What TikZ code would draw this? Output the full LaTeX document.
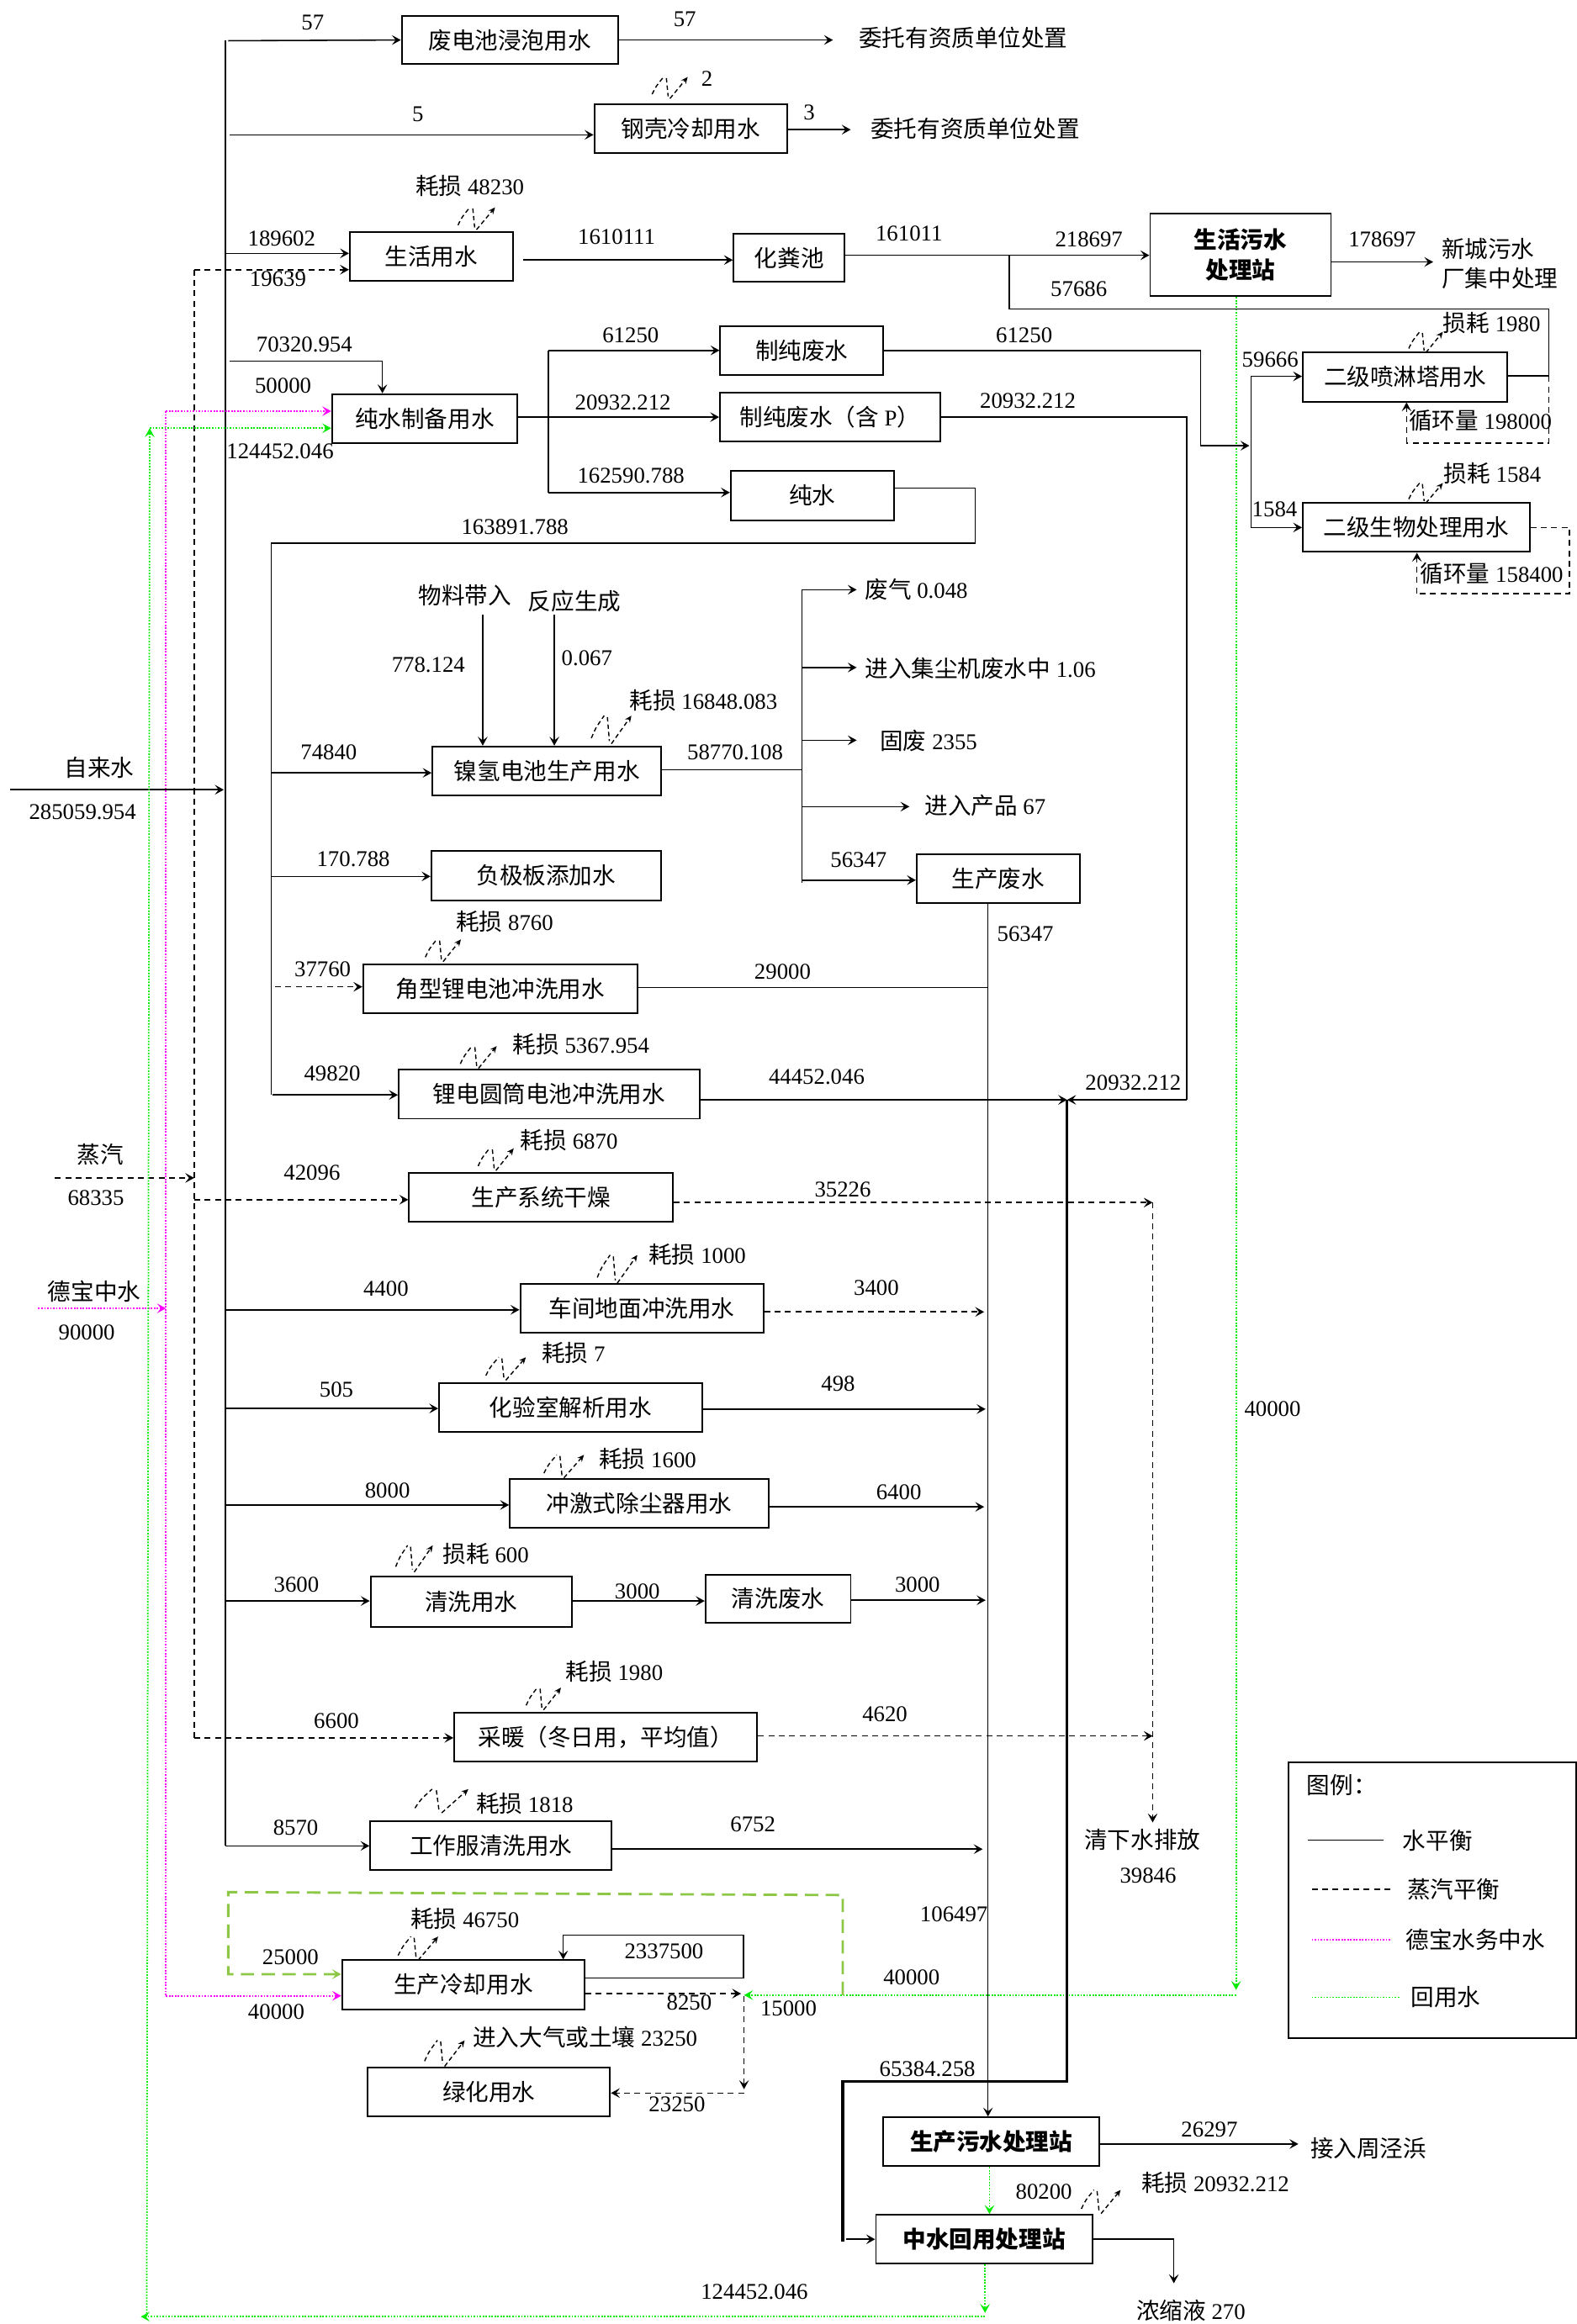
\documentclass[tikz,border=0pt]{standalone}
\usepackage{fontspec}
\setmainfont{Liberation Serif}
\newfontfamily\cjk{Noto Sans CJK SC}[Scale=1.03]
\newcommand\zh[1]{{\cjk #1}}
\usetikzlibrary{arrows.meta}
\definecolor{mag}{RGB}{255,0,255}
\definecolor{grn}{RGB}{0,235,0}
\definecolor{lgrn}{RGB}{140,200,70}
\tikzset{
 every node/.style={font=\fontsize{15.2}{18}\selectfont, inner sep=0pt},
 bx/.style={draw, line width=1.1pt, minimum height=33pt},
 bbx/.style={bx, font=\fontsize{15.2}{20}\selectfont\bfseries},
 ln/.style={line width=0.9pt},
 arr/.style={-{Stealth[length=6pt,width=6.5pt,inset=2.5pt]}},
 ar/.style={ln,arr},
 stm/.style={ln,dash pattern=on 4pt off 3pt},
 mgd/.style={mag,line width=1pt,dash pattern=on 1pt off 1pt},
 grd/.style={grn,line width=1pt,dash pattern=on 1pt off 1pt},
 lossd/.style={line width=0.8pt,dash pattern=on 3pt off 2pt},
 pics/loss/.style args={#1/#2}{code={
   \draw[lossd] (0,{-0.2*#2}) .. controls ({0.1*#1},{-0.55*#2}) .. ({0.32*#1},{-#2});
   \draw[lossd] ({0.4*#1},{-0.95*#2}) -- ({0.45*#1},{-0.1*#2});
   \draw[lossd,-{Stealth[length=4.5pt,width=4pt,inset=1.5pt]}] ({0.5*#1},0) -- (#1,{-#2});
 }},
}
\begin{document}
\begin{tikzpicture}[x=1pt,y=-1pt]
\useasboundingbox (0,0) rectangle (1064,1568.5);

% ---------------- boxes ----------------
\node[bx,minimum width=146,minimum height=32] (fdc) at (344,27) {\zh{废电池浸泡用水}};
\node[bx,minimum width=130] (gk) at (466,87) {\zh{钢壳冷却用水}};
\node[bx,minimum width=110] (sh) at (291,173) {\zh{生活用水}};
\node[bx,minimum width=75,minimum height=32] (hfc) at (532.5,174) {\zh{化粪池}};
\node[bbx,minimum width=122,minimum height=56,align=center] (shws) at (837,172) {\zh{生活污水}\\\zh{处理站}};
\node[bx,minimum width=125] (cs) at (286.5,282.5) {\zh{纯水制备用水}};
\node[bx,minimum width=110] (zcf) at (541,236.5) {\zh{制纯废水}};
\node[bx,minimum width=148.5] (zcfp) at (560,281.5) {\zh{制纯废水（含} P\zh{）}};
\node[bx,minimum width=110] (cw) at (548,334.5) {\zh{纯水}};
\node[bx,minimum width=138] (pl) at (948,254.5) {\zh{二级喷淋塔用水}};
\node[bx,minimum width=153] (sw) at (955.5,356) {\zh{二级生物处理用水}};
\node[bx,minimum width=154.5] (nq) at (369,520.3) {\zh{镍氢电池生产用水}};
\node[bx,minimum width=155] (fj) at (368.5,591) {\zh{负极板添加水}};
\node[bx,minimum width=185] (jx) at (337.5,667.5) {\zh{角型锂电池冲洗用水}};
\node[bx,minimum width=203] (yt) at (370.5,738.5) {\zh{锂电圆筒电池冲洗用水}};
\node[bx,minimum width=110] (scfs) at (673.5,593) {\zh{生产废水}};
\node[bx,minimum width=178] (gz) at (365,808) {\zh{生产系统干燥}};
\node[bx,minimum width=164] (cj) at (433,883) {\zh{车间地面冲洗用水}};
\node[bx,minimum width=177.6] (hy) at (385,950) {\zh{化验室解析用水}};
\node[bx,minimum width=174.6] (cjs) at (431.3,1014.5) {\zh{冲激式除尘器用水}};
\node[bx,minimum width=136,minimum height=34] (qx) at (318,1081) {\zh{清洗用水}};
\node[bx,minimum width=98,minimum height=32] (qxfs) at (525,1079) {\zh{清洗废水}};
\node[bx,minimum width=204.5] (cn) at (408.7,1172.3) {\zh{采暖（冬日用，平均值）}};
\node[bx,minimum width=163] (gzf) at (331.3,1245.8) {\zh{工作服清洗用水}};
\node[bx,minimum width=163.7] (lq) at (312.6,1339.5) {\zh{生产冷却用水}};
\node[bx,minimum width=163.7] (lh) at (329.8,1412) {\zh{绿化用水}};
\node[bbx,minimum width=145.7] (scws) at (668.8,1445.5) {\zh{生产污水处理站}};
\node[bbx,minimum width=146] (zs) at (664,1511.3) {\zh{中水回用处理站}};

% ---------------- main vertical lines ----------------
\coordinate (ta) at (152,27.5);
\coordinate (tb) at (152,1245.8);
\draw[ln] (ta) -- (tb);
\coordinate (sa) at (131,182);
\coordinate (sb) at (131,1172.9);
\draw[stm] (sa) -- (sb);
\coordinate (ma) at (112,277.5);
\coordinate (mb) at (112,1347);
\draw[mgd] (ma) -- (mb);

% inputs on the left
\node (t71) at (67,518) {\zh{自来水}};
\node (t72) at (55.7,548) {285059.954};
\coordinate (w0) at (7,533); \coordinate (w1) at (151,533);
\draw[ar] (w0) -- (w1);
\node (t59) at (67.8,779) {\zh{蒸汽}};
\node (t60) at (64.7,808.7) {68335};
\coordinate (s0) at (37,795); \coordinate (s1) at (131,795);
\draw[stm,arr] (s0) -- (s1);
\node (t69) at (63.6,871.5) {\zh{德宝中水}};
\node (t70) at (58.5,899) {90000};
\coordinate (m0) at (25.8,883); \coordinate (m1) at (112,883);
\draw[mgd,arr] (m0) -- (m1);

% ---------------- top ----------------
\coordinate (j1) at (154,27.5);
\draw[ar] (j1) -- (fdc.west);
\coordinate (e1) at (562,27);
\draw[ar] (fdc.east) -- (e1);
\node (t1) at (211,15) {57};
\node (t2) at (462,13) {57};
\node (t3) at (650,25.3) {\zh{委托有资质单位处置}};

\coordinate (j2) at (155,91);
\draw[ar] (j2) -- (gk.west |- j2);
\coordinate (e2) at (574,87.5);
\draw[ar] (gk.east |- e2) -- (e2);
\node (t4) at (282,77) {5};
\node (t5) at (546,76) {3};
\node (t6) at (658,87) {\zh{委托有资质单位处置}};
\pic at (440,66.5) {loss=24/14.5};
\node (t7) at (477,53) {2};

% 生活用水
\coordinate (j3) at (152,171);
\draw[ar] (j3) -- (sh.west |- j3);
\draw[stm,arr] (sa) -- (sh.west |- sa);
\node (t8) at (190,161) {189602};
\node (t9) at (187.5,188.5) {19639};
\pic at (309,155) {loss=25/15};
\node (t10) at (317,125.4) {\zh{耗损} 48230};
\coordinate (j5) at (353,175.5);
\draw[ar] (j5) -- (hfc.west |- j5);
\node (t11) at (416,160) {1610111};
\coordinate (j6) at (681,172.3);
\draw[ln] (hfc.east |- j6) -- (j6);
\draw[ar] (j6) -- (shws.west |- j6);
\node (t12) at (613.3,157.6) {161011};
\node (t13) at (734.7,161.3) {218697};
\coordinate (j7) at (1045,253.8);
\coordinate (j7a) at (1045,208.5);
\draw[ln] (j6) |- (j7a) -- (j7) -- (pl.east |- j7);
\node (t14) at (727.9,195) {57686};
\coordinate (e3) at (967,176.8);
\draw[ar] (shws.east |- e3) -- (e3);
\node (t15) at (932.6,161.3) {178697};
\node (t16) at (1004,167.7) {\zh{新城污水}};
\node (t17) at (1012,188) {\zh{厂集中处理}};

% green from 生活污水处理站
\coordinate (g0) at (834,0);
\coordinate (g1) at (834,1343);
\draw[grd,arr] (shws.south -| g0) -- (g1);
\coordinate (g2) at (834,1346.5);
\coordinate (g3) at (502,1346.5);
\draw[grd,arr] (g2) -- (g3);
\node (t18) at (858.6,951) {40000};
\node (t19) at (615,1334.7) {40000};
\node (t20) at (532,1355.6) {15000};

% 纯水制备
\coordinate (j8) at (155,243.7);
\coordinate (j9) at (258,243.7);
\draw[ar] (j8) -- (j9) -- (j9 |- cs.north);
\node (t21) at (205.3,232.3) {70320.954};
\node (t22) at (191,260.4) {50000};
\draw[mgd,arr] (ma) -- (cs.west |- ma);
\coordinate (g4) at (101,289);
\coordinate (g5) at (99,1563.5);
\draw[grd,arr] (g5) -- (g4);
\draw[grd,arr] (g4) -- (cs.west |- g4);
\node (t23) at (189,304.8) {124452.046};
\coordinate (j10) at (370,281.5);
\draw[ln] (cs.east |- j10) -- (j10);
\coordinate (j11) at (370,236.5);
\coordinate (j12) at (370,332.4);
\draw[ln] (j11) -- (j12);
\draw[ar] (j11) -- (zcf.west |- j11);
\draw[ar] (j10) -- (zcfp.west |- j10);
\draw[ar] (j12) -- (cw.west |- j12);
\node (t24) at (425.5,226) {61250};
\node (t25) at (420.3,271.8) {20932.212};
\node (t26) at (425.7,321) {162590.788};

% 制纯废水 -> 二级
\coordinate (j13) at (810,236.5);
\coordinate (j14) at (810,300.8);
\coordinate (j15) at (843,300.8);
\draw[ln] (zcf.east |- j13) -- (j13) -- (j14);
\draw[ar] (j14) -- (j15);
\node (t27) at (691,226) {61250};
\coordinate (j16) at (844,254);
\coordinate (j17) at (844,356);
\draw[ln] (j16) -- (j17);
\draw[ar] (j16) -- (pl.west |- j16);
\draw[ar] (j17) -- (sw.west |- j17);
\node (t28) at (857,243) {59666};
\node (t29) at (860,344) {1584};

\coordinate (j18) at (1045,299);
\coordinate (j19) at (949,299);
\draw[stm] (j7) -- (j18) -- (j19);
\draw[stm,arr] (j19) -- (j19 |- pl.south);
\node (t30) at (998.8,283.8) {\zh{循环量} 198000};
\pic at (950.5,238) {loss=23/14};
\node (t31) at (1006.5,218) {\zh{损耗} 1980};
\coordinate (j20) at (1059,356);
\coordinate (j21) at (1059,400.5);
\coordinate (j22) at (956,400.5);
\draw[stm] (sw.east) -- (j20) -- (j21) -- (j22);
\draw[stm,arr] (j22) -- (j22 |- sw.south);
\node (t32) at (1006.5,387) {\zh{循环量} 158400};
\pic at (950.5,339.5) {loss=23/13.5};
\node (t33) at (1007,319.7) {\zh{损耗} 1584};

% 制纯废水(含P)
\coordinate (j23) at (800.7,281.5);
\coordinate (j24) at (800.7,742.3);
\coordinate (jx0) at (720,742.3);
\draw[ln] (zcfp.east |- j23) -- (j23) -- (j24);
\draw[ar] (j24) -- (jx0);
\node (t34) at (693.5,270.3) {20932.212};
\node (t35) at (764.6,730.6) {20932.212};

% 纯水 -> second trunk
\coordinate (j25) at (658,329.3);
\coordinate (j26) at (658,366.6);
\coordinate (j27) at (183,366.6);
\coordinate (j28) at (183,739);
\draw[ln] (cw.east |- j25) -- (j25) -- (j26) -- (j27) -- (j28);
\node (t36) at (347.4,355.4) {163891.788};

\coordinate (j29) at (183,521.6);
\draw[ar] (j29) -- (nq.west |- j29);
\coordinate (j30) at (183,591.5);
\draw[ar] (j30) -- (fj.west |- j30);
\coordinate (j31) at (185.6,666);
\draw[stm,arr] (j31) -- (jx.west |- j31);
\coordinate (j32) at (184,739);
\draw[ar] (j32) -- (yt.west |- j32);
\node (t37) at (221.8,507.7) {74840};
\node (t38) at (238.4,579.6) {170.788};
\node (t39) at (217.7,654.4) {37760};
\node (t40) at (224.2,724.7) {49820};

% 镍氢
\node (t41) at (313.7,401.8) {\zh{物料带入}};
\node (t42) at (387.6,405.6) {\zh{反应生成}};
\coordinate (j33) at (325.7,415);
\draw[ar] (j33) -- (j33 |- nq.north);
\coordinate (j34) at (374,415);
\draw[ar] (j34) -- (j34 |- nq.north);
\node (t43) at (289,449) {778.124};
\node (t44) at (396,444.4) {0.067};
\pic at (399,502) {loss=27/19};
\node (t45) at (474.6,472.7) {\zh{耗损} 16848.083};
\coordinate (j35) at (541,519.5);
\draw[ln] (nq.east |- j35) -- (j35);
\node (t46) at (496,507.7) {58770.108};
\coordinate (j36) at (541,398);
\coordinate (j37) at (541,596);
\draw[ln] (j36) -- (j37);
\coordinate (e4) at (578,398); \draw[ar] (j36) -- (e4);
\coordinate (j38) at (541,450.5); \coordinate (e5) at (578,450.5); \draw[ar] (j38) -- (e5);
\coordinate (j39) at (541,499.6); \coordinate (e6) at (578,499.6); \draw[ar] (j39) -- (e6);
\coordinate (j40) at (541,544.4); \coordinate (e7) at (613.6,544.4); \draw[ar] (j40) -- (e7);
\coordinate (j41) at (541,594); \draw[ar] (j41) -- (scfs.west |- j41);
\node[anchor=west] (t47) at (583.4,397.9) {\zh{废气} 0.048};
\node[anchor=west] (t48) at (583.4,451) {\zh{进入集尘机废水中} 1.06};
\node[anchor=west] (t49) at (593.6,500) {\zh{固废} 2355};
\node[anchor=west] (t50) at (623.7,543.7) {\zh{进入产品} 67};
\node (t51) at (579.3,580.4) {56347};

% 生产废水 down
\coordinate (j42) at (666.6,0);
\draw[ar] (scfs.south -| j42) -- (scws.north -| j42);
\node (t52) at (691.8,630.3) {56347};
\node (t53) at (643.6,1292) {106497};

% 角型 / 圆筒
\coordinate (j43) at (666.6,666.6);
\draw[ln] (jx.east |- j43) -- (j43);
\node (t54) at (528,656) {29000};
\pic at (287,649) {loss=24/15};
\node (t55) at (340.5,622) {\zh{耗损} 8760};
\draw[ar] (yt.east |- jx0) -- (jx0);
\node (t56) at (551,727) {44452.046};
\pic at (310.6,721) {loss=24.5/15};
\node (t57) at (392,704.6) {\zh{耗损} 5367.954};

% thick line to 中水回用
\coordinate (k1) at (720,1405); \coordinate (k2) at (568.6,1405); \coordinate (k3) at (568.6,1513);
\draw[line width=1.8pt] (jx0) -- (k1) -- (k2) -- (k3);
\coordinate (k4) at (571,1511.3);
\draw[ar] (k4) -- (zs.west);
\node (t58) at (625.7,1396.6) {65384.258};

% 生产系统干燥
\coordinate (s2) at (131,809.7);
\draw[stm,arr] (s2) -- (gz.west |- s2);
\node (t61) at (210.5,791.5) {42096};
\pic at (322.6,790) {loss=24/15};
\node (t62) at (384,769.4) {\zh{耗损} 6870};
\coordinate (s3) at (777.7,811.6);
\draw[stm,arr] (gz.east |- s3) -- (s3);
\node (t63) at (568.6,802.9) {35226};
\coordinate (s4) at (777.7,1230);
\draw[stm,arr] (s3) -- (s4);
\node (t64) at (770.8,1241.7) {\zh{清下水排放}};
\node (t65) at (774.6,1266) {39846};

% 采暖
\draw[stm,arr] (sb) -- (cn.west |- sb);
\node (t66) at (227,1161.6) {6600};
\pic at (355,1154) {loss=23.5/15};
\node (t67) at (414.5,1128) {\zh{耗损} 1980};
\coordinate (s5) at (777.7,1171.6);
\draw[stm,arr] (cn.east |- s5) -- (s5);
\node (t68) at (597,1157) {4620};

% trunk 1 lower branches
\coordinate (b1) at (152,884); \draw[ar] (b1) -- (cj.west |- b1);
\node (t73) at (260.4,869.5) {4400};
\pic at (403,866) {loss=27/19};
\node (t74) at (470.5,846.7) {\zh{耗损} 1000};
\coordinate (b2) at (664,885.4); \draw[stm,arr] (cj.east |- b2) -- (b2);
\node (t75) at (591.3,869) {3400};

\coordinate (b3) at (152,950.6); \draw[ar] (b3) -- (hy.west |- b3);
\node (t76) at (227,938) {505};
\pic at (327.8,931.5) {loss=27/15.5};
\node (t77) at (387,913) {\zh{耗损} 7};
\coordinate (b4) at (665,951); \draw[ar] (hy.east |- b4) -- (b4);
\node (t78) at (565.5,934) {498};

\coordinate (b5) at (152,1015.7); \draw[ar] (b5) -- (cjs.west |- b5);
\node (t79) at (261.4,1006) {8000};
\pic at (367,997.4) {loss=27/15.5};
\node (t80) at (437,984.6) {\zh{耗损} 1600};
\coordinate (b6) at (664,1017); \draw[ar] (cjs.east |- b6) -- (b6);
\node (t81) at (606.4,1007) {6400};

\coordinate (b7) at (152,1080.5); \draw[ar] (b7) -- (qx.west |- b7);
\node (t82) at (200,1069.6) {3600};
\pic at (267,1061) {loss=25/18};
\node (t83) at (327.8,1048.7) {\zh{损耗} 600};
\coordinate (b8) at (476,1080.5); \draw[ar] (qx.east |- b8) -- (qxfs.west |- b8);
\node (t84) at (430,1074) {3000};
\coordinate (b9) at (665,1080); \draw[ar] (qxfs.east |- b9) -- (b9);
\node (t85) at (619,1069.6) {3000};

\draw[ar] (tb) -- (gzf.west |- tb);
\node (t86) at (199.5,1233.7) {8570};
\pic at (280,1223.5) {loss=36/16};
\node (t87) at (354,1217) {\zh{耗损} 1818};
\coordinate (b10) at (663,1248); \draw[ar] (gzf.east |- b10) -- (b10);
\node (t88) at (508,1231) {6752};

% 生产冷却用水
\coordinate (q1) at (568.6,1346.5); \coordinate (q2) at (568.6,1279);
\coordinate (q3) at (154,1277); \coordinate (q4) at (154,1332.4);
\draw[lgrn,line width=1.6pt,dash pattern=on 9pt off 5pt,arr] (q1) -- (q2) -- (q3) -- (q4) -- (lq.west |- q4);
\node (t89) at (196,1321) {25000};
\draw[mgd,arr] (mb) -- (lq.west |- mb);
\node (t90) at (186.4,1358) {40000};
\pic at (268.6,1323) {loss=27/16};
\node (t91) at (313.7,1295) {\zh{耗损} 46750};
\coordinate (c1) at (501.5,1335); \coordinate (c2) at (501.5,1306); \coordinate (c3) at (380,1306);
\draw[ln] (lq.east |- c1) -- (c1) -- (c2) -- (c3);
\draw[ar] (c3) -- (c3 |- lq.north);
\node (t92) at (448,1317) {2337500};
\coordinate (c4) at (500,1345.5);
\draw[stm,arr] (lq.east |- c4) -- (c4);
\node (t93) at (465,1351.8) {8250};
\coordinate (c5) at (502,1347); \coordinate (c6) at (502,1410);
\draw[stm,arr] (c5) -- (c6);
\coordinate (c7) at (502,1412.6);
\draw[stm,arr] (c7) -- (lh.east |- c7);
\node (t94) at (456.8,1420) {23250};
\pic at (286.5,1394.6) {loss=27/17.6};
\node (t95) at (394.8,1375) {\zh{进入大气或土壤} 23250};

% 生产污水处理站 / 中水回用处理站
\coordinate (e8) at (876,1447);
\draw[ar] (scws.east |- e8) -- (e8);
\node (t96) at (816,1437.3) {26297};
\node (t97) at (923.3,1450) {\zh{接入周泾浜}};
\coordinate (g9) at (667.6,0);
\draw[grd,arr] (scws.south -| g9) -- (zs.north -| g9);
\node (t98) at (704.3,1479) {80200};
\pic at (729.6,1494) {loss=26.5/16};
\node (t99) at (820,1473) {\zh{耗损} 20932.212};
\coordinate (z1) at (792,1511.3); \coordinate (z2) at (792,1541);
\draw[ln] (zs.east) -- (z1);
\draw[ar] (z1) -- (z2);
\node (t100) at (803.5,1559.5) {\zh{浓缩液} 270};
\coordinate (g6) at (664.6,1561); \coordinate (g7) at (664.6,1563.5); \coordinate (g8) at (95,1563.5);
\draw[grd,arr] (zs.south -| g6) -- (g6);
\draw[grd,arr] (g7) -- (g8);
\node (t101) at (509,1547) {124452.046};

% legend
\node[draw,line width=1.1pt,minimum width=194,minimum height=186,anchor=north west] (lg) at (869,1189) {};
\node[anchor=west] (lg0) at (881.6,1205) {\zh{图例：}};
\coordinate (la1) at (882.6,1242); \coordinate (la2) at (933.6,1242);
\draw[ln] (la1) -- (la2);
\node (lg1) at (970,1242) {\zh{水平衡}};
\coordinate (lb1) at (885,1275); \coordinate (lb2) at (938,1275);
\draw[stm] (lb1) -- (lb2);
\node (lg2) at (980.7,1275) {\zh{蒸汽平衡}};
\coordinate (lc1) at (885,1309); \coordinate (lc2) at (939,1309);
\draw[mgd] (lc1) -- (lc2);
\node (lg3) at (995.5,1309) {\zh{德宝水务中水}};
\coordinate (ld1) at (885,1348); \coordinate (ld2) at (945,1348);
\draw[grd] (ld1) -- (ld2);
\node (lg4) at (975.5,1348) {\zh{回用水}};
\end{tikzpicture}
\end{document}
